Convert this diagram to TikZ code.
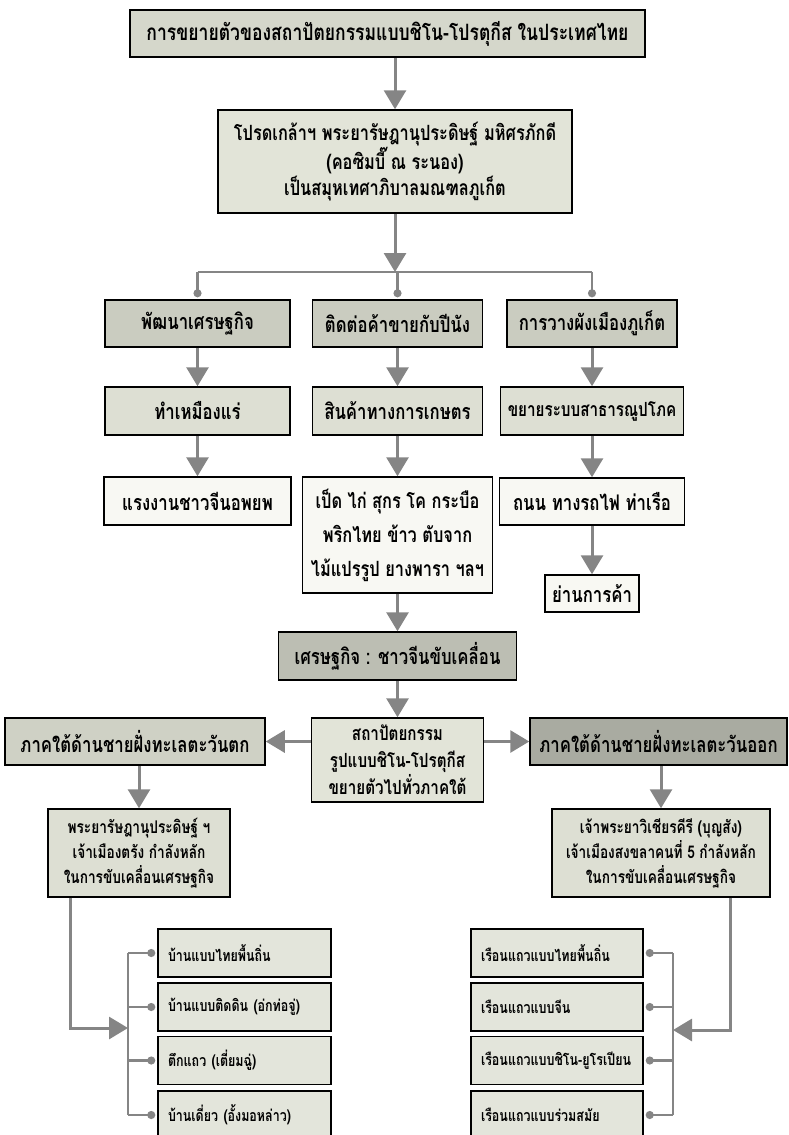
\documentclass[tikz,border=0pt]{standalone}
\usepackage{fontspec}
\newfontfamily\thai[Script=Thai,FakeStretch=0.78]{Loma}
\usetikzlibrary{arrows.meta,calc}
\definecolor{arrgray}{HTML}{858585}
\definecolor{fillT}{HTML}{D5D7CB}
\definecolor{fillB}{HTML}{E2E4D8}
\definecolor{fillR}{HTML}{CACCC0}
\definecolor{fillS}{HTML}{DDDFD3}
\definecolor{fillW}{HTML}{F8F8F3}
\definecolor{fillE}{HTML}{BCBEB3}
\definecolor{fillL}{HTML}{CFD1C5}
\definecolor{fillD}{HTML}{A9ABA1}
\definecolor{fillI}{HTML}{E3E5DB}

\begin{document}
\begin{tikzpicture}[x=1pt,y=-1pt,
    box/.style={draw,line width=1.5pt,align=center,inner sep=0pt,font=\thai\bfseries\fontsize{21.5}{27}\selectfont},
    item/.style={box,align=left,text width=#1,font=\thai\bfseries\fontsize{16}{20}\selectfont},
    arr/.style={arrgray,line width=3pt,-{Triangle[width=22pt,length=19pt]}},
    link/.style={arrgray,line width=2.5pt},
    dotted end/.style={arrgray,line width=2.5pt,-{Circle[length=8pt]},shorten >=2pt}]
    \useasboundingbox (0,0) rectangle (789,1135);

    \node [box,fill=fillT,minimum width=515,minimum height=47,font=\thai\bfseries\fontsize{22.5}{27}\selectfont] (a) at (387.5,33.5) {การขยายตัวของสถาปัตยกรรมแบบชิโน-โปรตุกีส ในประเทศไทย};
    \node [box,fill=fillB,minimum width=354,minimum height=103,font=\thai\bfseries\fontsize{21}{26}\selectfont] (b) at (395,161.5) {โปรดเกล้าฯ พระยารัษฎานุประดิษฐ์ มหิศรภักดี\\(คอซิมบี๊ ณ ระนอง)\\เป็นสมุหเทศาภิบาลมณฑลภูเก็ต};
    \coordinate (j) at (395,272);

    \node [box,fill=fillR,minimum width=185,minimum height=47] (c1) at (197.5,323.5) {พัฒนาเศรษฐกิจ};
    \node [box,fill=fillR,minimum width=170,minimum height=47] (c2) at (397.5,323.5) {ติดต่อค้าขายกับปีนัง};
    \node [box,fill=fillR,minimum width=170,minimum height=47] (c3) at (592,323.5) {การวางผังเมืองภูเก็ต};

    \node [box,fill=fillS,minimum width=185,minimum height=48] (d1) at (197.5,411) {ทำเหมืองแร่};
    \node [box,fill=fillS,minimum width=170,minimum height=48] (d2) at (397.5,411) {สินค้าทางการเกษตร};
    \node [box,fill=fillS,minimum width=183,minimum height=48,font=\thai\bfseries\fontsize{19.5}{27}\selectfont] (d3) at (592,411) {ขยายระบบสาธารณูปโภค};

    \node [box,fill=fillW,minimum width=187,minimum height=48] (e1) at (197.5,501) {แรงงานชาวจีนอพยพ};
    \node [box,fill=fillW,minimum width=190,minimum height=116,font=\thai\bfseries\fontsize{21}{34}\selectfont] (e2) at (397.5,535) {เป็ด ไก่ สุกร โค กระบือ\\พริกไทย ข้าว ตับจาก\\ไม้แปรรูป ยางพารา ฯลฯ};
    \node [box,fill=fillW,minimum width=185,minimum height=47] (e3) at (592,501.5) {ถนน ทางรถไฟ ท่าเรือ};
    \node [box,fill=fillW,minimum width=94,minimum height=37] (f3) at (592,593.5) {ย่านการค้า};

    \node [box,fill=fillE,minimum width=238,minimum height=48] (g) at (397.5,656) {เศรษฐกิจ : ชาวจีนขับเคลื่อน};
    \node [box,fill=fillB,minimum width=172,minimum height=84,font=\thai\bfseries\fontsize{19.5}{27}\selectfont] (m) at (397.5,760) {สถาปัตยกรรม\\รูปแบบชิโน-โปรตุกีส\\ขยายตัวไปทั่วภาคใต้};
    \node [box,fill=fillL,minimum width=260,minimum height=47] (wl) at (135,741.5) {ภาคใต้ด้านชายฝั่งทะเลตะวันตก};
    \node [box,fill=fillD,minimum width=257,minimum height=47] (wr) at (658.5,741.5) {ภาคใต้ด้านชายฝั่งทะเลตะวันออก};

    \node [box,fill=fillS,minimum width=182,minimum height=88,font=\thai\bfseries\fontsize{17.5}{25}\selectfont] (ls) at (139,853) {พระยารัษฎานุประดิษฐ์ ฯ\\เจ้าเมืองตรัง กำลังหลัก\\ในการขับเคลื่อนเศรษฐกิจ};
    \node [box,fill=fillS,minimum width=218,minimum height=88,font=\thai\bfseries\fontsize{17.5}{25}\selectfont] (rs) at (661,853) {เจ้าพระยาวิเชียรคีรี (บุญสัง)\\เจ้าเมืองสงขลาคนที่ 5 กำลังหลัก\\ในการขับเคลื่อนเศรษฐกิจ};

    \node [item=153,fill=fillI,minimum width=173,minimum height=48] (l1) at (244.5,953) {บ้านแบบไทยพื้นถิ่น};
    \node [item=153,fill=fillI,minimum width=173,minimum height=48] (l2) at (244.5,1007) {บ้านแบบติดดิน (อ่กท่อจู่)};
    \node [item=153,fill=fillI,minimum width=173,minimum height=48] (l3) at (244.5,1060.5) {ตึกแถว (เตี่ยมฉู่)};
    \node [item=153,fill=fillI,minimum width=173,minimum height=48] (l4) at (244.5,1115) {บ้านเดี่ยว (อั้งมอหล่าว)};
    \node [item=152,fill=fillI,minimum width=172,minimum height=48] (r1) at (557,953) {เรือนแถวแบบไทยพื้นถิ่น};
    \node [item=152,fill=fillI,minimum width=172,minimum height=48] (r2) at (557,1007) {เรือนแถวแบบจีน};
    \node [item=152,fill=fillI,minimum width=172,minimum height=48] (r3) at (557,1060.5) {เรือนแถวแบบชิโน-ยูโรเปียน};
    \node [item=152,fill=fillI,minimum width=172,minimum height=48] (r4) at (557,1115) {เรือนแถวแบบร่วมสมัย};
    \coordinate (lb) at (128,1028);
    \coordinate (rb) at (673,1030);

    \draw [arr] (a.south -| b.north) -- (b.north);
    \draw [arr] (b.south) -- (j);
    \draw [link] (c1 |- j) -- (c3 |- j);
    \foreach \c in {c1,c2,c3}
        \draw [dotted end] (\c |- j) -- (\c.north);
    \foreach \c/\d in {c1/d1,c2/d2,c3/d3,d1/e1,d2/e2,d3/e3,e3/f3}
        \draw [arr] (\c.south -| \d.north) -- (\d.north);
    \draw [arr] (e2.south) -- (g.north);
    \draw [arr] (g.south) -- (m.north);
    \draw [arr] (m.west |- wl) -- (wl.east);
    \draw [arr] (m.east |- wr) -- (wr.west);
    \draw [arr] (wl.south -| ls.north) -- (ls.north);
    \draw [arr] (wr.south -| rs.north) -- (rs.north);

    \draw [arr] ([xshift=23pt]ls.south west) |- (lb);
    \draw [link] (lb |- l1) -- (lb |- l4);
    \foreach \i in {1,...,4}
        \draw [dotted end] (lb |- l\i) -- (l\i.west);
    \draw [arr] ([xshift=-40pt]rs.south east) |- (rb);
    \draw [link] (rb |- r1) -- (rb |- r4);
    \foreach \i in {1,...,4}
        \draw [dotted end] (rb |- r\i) -- (r\i.east);
\end{tikzpicture}
\end{document}
